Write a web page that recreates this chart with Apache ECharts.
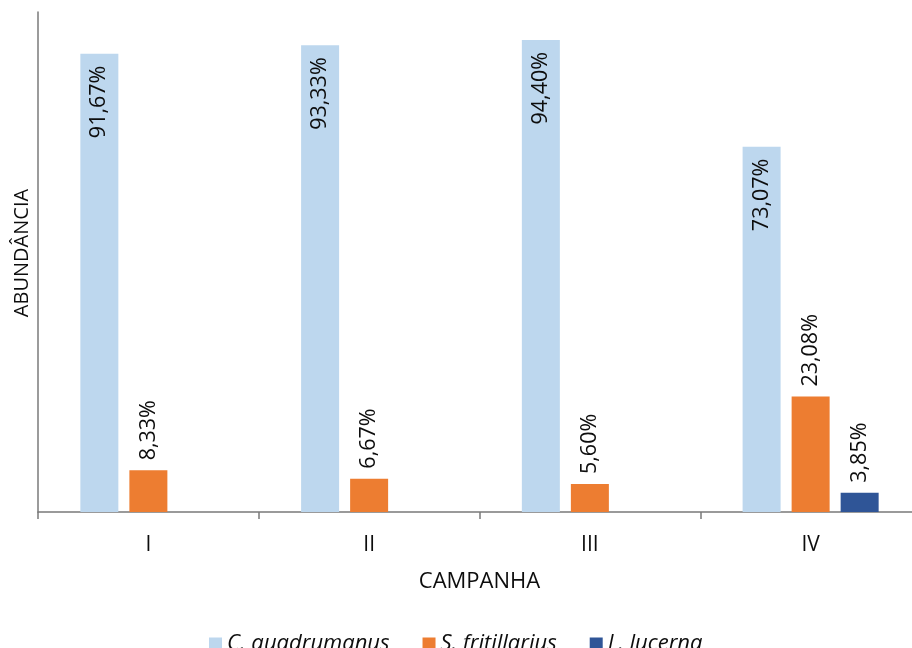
<!DOCTYPE html>
<html>
<head>
<meta charset="utf-8">
<script src="https://cdn.jsdelivr.net/npm/echarts@6/dist/echarts.min.js"></script>
<style>
  html, body { margin: 0; padding: 0; background: #ffffff; }
  #chart { width: 912px; height: 648px; }
</style>
</head>
<body>
<div id="chart"></div>
<script>
// Campaigns on the category axis
const campanhas = ['I', 'II', 'III', 'IV'];
// Relative abundance (%) of each species per campaign
const cQuadrumanus = [91.67, 93.33, 94.40, 73.07];
const sFritillarius = [8.33, 6.67, 5.60, 23.08];
const lLucerna = [null, null, null, 3.85];
const seriesNames = ['C. quadrumanus', 'S. fritillarius', 'L. lucerna'];

const FONT = '"Open Sans", "Noto Sans", sans-serif';
const AXIS_COLOR = '#7a7a7a';
const TEXT_COLOR = '#0d0d0d';

const fmt = p => p.value == null ? '' : p.value.toFixed(2).replace('.', ',') + '%';

function labelInside() {
  return {
    show: true, position: 'insideTop', rotate: 90, distance: 12,
    align: 'right', verticalAlign: 'middle',
    fontFamily: FONT, fontSize: 21.5, color: TEXT_COLOR, formatter: fmt
  };
}
function labelAbove() {
  return {
    show: true, position: 'top', rotate: 90, distance: 10,
    align: 'left', verticalAlign: 'middle',
    fontFamily: FONT, fontSize: 21.5, color: TEXT_COLOR, formatter: fmt
  };
}

const chart = echarts.init(document.getElementById('chart'), null, { renderer: 'canvas' });
chart.setOption({
  animation: false,
  backgroundColor: '#ffffff',
  textStyle: { fontFamily: FONT },
  // the category band continues slightly past the right edge of the canvas
  grid: { left: 38, width: 883, top: 12, bottom: 136, containLabel: false, outerBoundsMode: 'none' },
  legend: {
    data: seriesNames,
    left: 204, top: 628,
    itemWidth: 13, itemHeight: 13, itemGap: 33,
    icon: 'rect',
    textStyle: { fontFamily: FONT, fontSize: 22, fontStyle: 'italic', color: TEXT_COLOR }
  },
  xAxis: {
    type: 'category',
    data: campanhas,
    name: 'CAMPANHA',
    nameLocation: 'middle',
    nameGap: 59,
    nameTextStyle: { fontFamily: FONT, fontSize: 22, color: TEXT_COLOR },
    axisLine: { lineStyle: { color: AXIS_COLOR, width: 1.5 } },
    axisTick: { show: true, length: 7, lineStyle: { color: AXIS_COLOR, width: 1.5 } },
    axisLabel: { margin: 23, fontFamily: FONT, fontSize: 21, color: TEXT_COLOR }
  },
  yAxis: {
    type: 'value',
    min: 0, max: 100,
    name: 'ABUNDÂNCIA',
    nameLocation: 'middle',
    nameGap: 6,
    nameTextStyle: { fontFamily: FONT, fontSize: 20, color: TEXT_COLOR, padding: [0, 0, 0, 18] },
    axisLine: { show: true, lineStyle: { color: AXIS_COLOR, width: 1.5 } },
    axisTick: { show: false },
    axisLabel: { show: false },
    splitLine: { show: false }
  },
  series: [
    {
      name: seriesNames[0], type: 'bar', data: cQuadrumanus,
      barWidth: 38, barGap: '29%',
      itemStyle: { color: '#BDD7EE' },
      label: labelInside()
    },
    {
      name: seriesNames[1], type: 'bar', data: sFritillarius,
      barWidth: 38, barGap: '29%',
      itemStyle: { color: '#ED7D31' },
      label: labelAbove()
    },
    {
      name: seriesNames[2], type: 'bar', data: lLucerna,
      barWidth: 38, barGap: '29%',
      itemStyle: { color: '#2F5597' },
      label: labelAbove()
    }
  ]
});
</script>
</body>
</html>
